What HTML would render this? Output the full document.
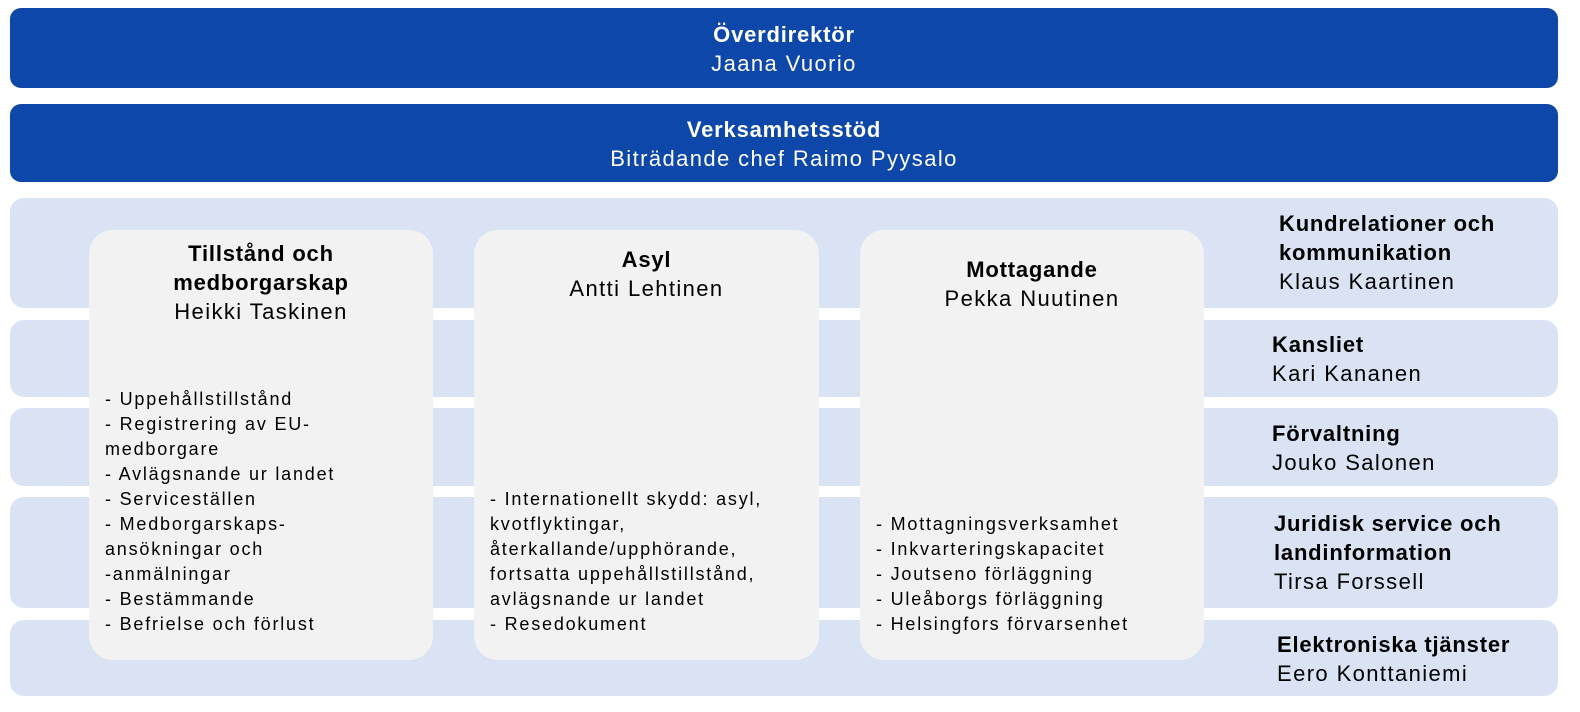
<!DOCTYPE html>
<html><head><meta charset="utf-8"><style>
body{margin:0;width:1580px;height:712px;background:#fff;position:relative;overflow:hidden;font-family:"Liberation Sans",sans-serif;color:#000}
.a{position:absolute}
.blue{background:#0D47A9;border-radius:11px;color:#fff;text-align:center;font-size:22px;line-height:29px;left:10px;width:1548px;letter-spacing:1.4px}
.band{background:#DAE3F3;border-radius:14px;left:10px;width:1548px}
.card{background:#F2F2F2;border-radius:24px;top:230px;height:430px}
.t{text-align:center;font-size:22px;line-height:29px;letter-spacing:1.4px}
.l{font-size:18px;line-height:25px;letter-spacing:1.8px;white-space:nowrap}
.r{font-size:22px;line-height:29px;letter-spacing:1.4px;white-space:nowrap}
b{font-weight:bold;letter-spacing:0.8px}
</style></head><body>
<div class="a blue" style="top:8px;height:80px"><div style="padding-top:12px"><b>Överdirektör</b><br>Jaana Vuorio</div></div>
<div class="a blue" style="top:104px;height:78px"><div style="padding-top:11px"><b>Verksamhetsstöd</b><br>Biträdande chef Raimo Pyysalo</div></div>
<div class="a band" style="top:198px;height:110px"></div>
<div class="a band" style="top:320px;height:77px"></div>
<div class="a band" style="top:408px;height:78px"></div>
<div class="a band" style="top:497px;height:111px"></div>
<div class="a band" style="top:620px;height:76px"></div>

<div class="a card" style="left:89px;width:344px"></div>
<div class="a card" style="left:474px;width:345px"></div>
<div class="a card" style="left:860px;width:344px"></div>

<div class="a t" style="left:89px;width:344px;top:239px"><b>Tillstånd och<br>medborgarskap</b><br>Heikki Taskinen</div>
<div class="a t" style="left:474px;width:345px;top:245px"><b>Asyl</b><br>Antti Lehtinen</div>
<div class="a t" style="left:860px;width:344px;top:255px"><b>Mottagande</b><br>Pekka Nuutinen</div>

<div class="a l" style="left:105px;top:387px;width:320px">- Uppehållstillstånd<br>- Registrering av EU-<br>medborgare<br>- Avlägsnande ur landet<br>- Serviceställen<br>- Medborgarskaps-<br>ansökningar och<br>-anmälningar<br>- Bestämmande<br>- Befrielse och förlust</div>
<div class="a l" style="left:490px;top:487px;width:320px">- Internationellt skydd: asyl,<br>kvotflyktingar,<br>återkallande/upphörande,<br>fortsatta uppehållstillstånd,<br>avlägsnande ur landet<br>- Resedokument</div>
<div class="a l" style="left:876px;top:512px;width:320px">- Mottagningsverksamhet<br>- Inkvarteringskapacitet<br>- Joutseno förläggning<br>- Uleåborgs förläggning<br>- Helsingfors förvarsenhet</div>

<div class="a r" style="left:1279px;top:209px"><b>Kundrelationer och<br>kommunikation</b><br>Klaus Kaartinen</div>
<div class="a r" style="left:1272px;top:330px"><b>Kansliet</b><br>Kari Kananen</div>
<div class="a r" style="left:1272px;top:419px"><b>Förvaltning</b><br>Jouko Salonen</div>
<div class="a r" style="left:1274px;top:509px"><b>Juridisk service och<br>landinformation</b><br>Tirsa Forssell</div>
<div class="a r" style="left:1277px;top:630px"><b>Elektroniska tjänster</b><br>Eero Konttaniemi</div>
</body></html>
